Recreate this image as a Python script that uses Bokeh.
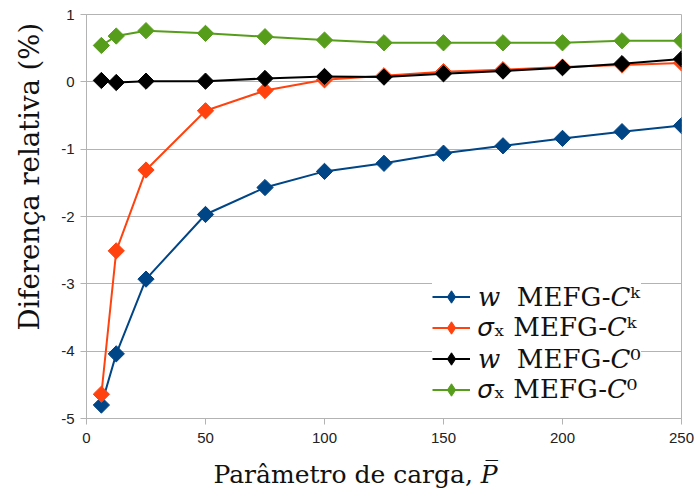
import math
from bokeh.plotting import figure
from bokeh.models import (Range1d, FixedTicker, PrintfTickFormatter, Title,
                          Legend, LegendItem)
from bokeh.embed import file_html
from bokeh.resources import INLINE

# Load parameter values
load_param = [6.25, 12.5, 25, 50, 75, 100, 125, 150, 175, 200, 225, 250]

# Relative differences (%)
w_ck = [-4.80, -4.04, -2.93, -1.97, -1.57, -1.33, -1.21, -1.06, -0.95, -0.84, -0.74, -0.65]
sx_ck = [-4.64, -2.51, -1.31, -0.43, -0.13, 0.03, 0.09, 0.15, 0.18, 0.22, 0.25, 0.28]
w_c0 = [0.02, -0.01, 0.01, 0.01, 0.05, 0.08, 0.07, 0.12, 0.16, 0.21, 0.27, 0.34]
sx_c0 = [0.54, 0.68, 0.76, 0.72, 0.67, 0.62, 0.58, 0.58, 0.58, 0.58, 0.61, 0.61]

series = [
    ("\U0001D464  MEFG-\U0001D436\u1D4F", w_ck, "#004586"),
    ("\U0001D70E\u2093 MEFG-\U0001D436\u1D4F", sx_ck, "#ff420e"),
    ("\U0001D464  MEFG-\U0001D436\u2070", w_c0, "#000000"),
    ("\U0001D70E\u2093 MEFG-\U0001D436\u2070", sx_c0, "#579d1c"),
]

y_ticks = [-5, -4, -3, -2, -1, 0, 1]
x_ticks = [0, 50, 100, 150, 200, 250]

x_title = "Parâmetro de carga, \U0001D443\u0305"
y_title = "Diferença relativa (%)"

p = figure(width=697, height=502, output_backend="svg", toolbar_location=None,
           x_range=Range1d(0, 250), y_range=Range1d(-5, 1),
           min_border_left=86, min_border_right=16, min_border_top=14,
           min_border_bottom=84, background_fill_color="white",
           border_fill_color="white")

items = []
for label, ys, color in series:
    ln = p.line(load_param, ys, line_color=color, line_width=2)
    # narrow diamond used as the legend swatch (hidden under the marks below)
    key = p.scatter(load_param, ys, marker="diamond", size=12,
                    fill_color=color, line_color=color)
    # diamonds drawn as squares turned by 45 degrees
    p.scatter(load_param, ys, marker="square", size=11.5, angle=math.pi / 4,
              fill_color=color, line_color=color)
    items.append(LegendItem(label=label, renderers=[ln, key]))

grid_gray = "#b3b3b3"
p.outline_line_color = grid_gray
p.xgrid.visible = False
p.ygrid.grid_line_color = grid_gray
p.ygrid.grid_line_width = 1

p.xaxis.ticker = FixedTicker(ticks=x_ticks)
p.yaxis.ticker = FixedTicker(ticks=y_ticks)
for ax in (p.xaxis[0], p.yaxis[0]):
    ax.formatter = PrintfTickFormatter(format="%d")
    ax.axis_line_color = grid_gray
    ax.major_tick_line_color = grid_gray
    ax.major_tick_out = 6
    ax.major_tick_in = 0
    ax.minor_tick_line_color = None
    ax.major_label_text_font = "Liberation Sans"
    ax.major_label_text_font_size = "15px"
    ax.major_label_text_color = "#222222"
p.xaxis.major_label_standoff = 8
p.yaxis.major_label_standoff = 6

# Axis titles
p.add_layout(Title(text=x_title, align="left", offset=127, standoff=24,
                   vertical_align="bottom",
                   text_font="DejaVu Serif", text_font_size="25px",
                   text_font_style="normal", text_color="#111111"), "below")
p.add_layout(Title(text=y_title, align="left", offset=88, standoff=24,
                   vertical_align="top",
                   text_font="DejaVu Serif", text_font_size="27.5px",
                   text_font_style="normal", text_color="#111111"), "left")

lg = Legend(items=items, location=(346, 13))
lg.background_fill_color = "white"
lg.background_fill_alpha = 1.0
lg.border_line_color = None
lg.label_text_font = "DejaVu Serif"
lg.label_text_font_size = "26px"
lg.label_text_color = "#111111"
lg.glyph_width = 38
lg.glyph_height = 31
lg.label_height = 31
lg.spacing = 0
lg.padding = 4
lg.margin = 0
lg.label_standoff = 8
p.add_layout(lg)

open("out.html", "w").write(file_html(p, INLINE))
